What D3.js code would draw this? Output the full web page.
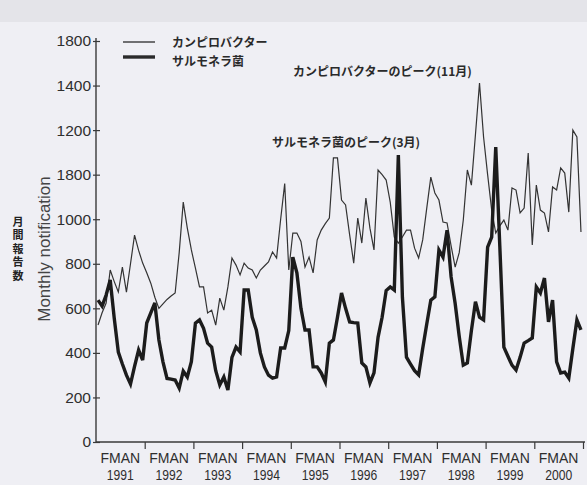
<!DOCTYPE html>
<html>
<head>
<meta charset="utf-8">
<script src="https://cdn.jsdelivr.net/npm/d3@7"></script>
<style>
  html, body { margin: 0; padding: 0; background: #eeeef3; }
  svg { display: block; }
</style>
</head>
<body>
<script>
// ---- data ----
const years = ["1991","1992","1993","1994","1995","1996","1997","1998","1999","2000"];
const monthLabel = "FMAN";
const yTickValues = [0, 200, 400, 600, 800, 1000, 1200, 1400, 1600, 1800];
const yTickLabels = ["0", "200", "400", "600", "800", "1000", "1800", "1200", "1400", "1800"];

// monthly notifications, Jan 1991 .. Dec 2000
const campylobacter = [
  525, 580, 624, 772, 720, 673, 785, 673, 800, 929, 860, 803,
  760, 713, 650, 600, 620, 640, 655, 669, 850, 1077, 960, 862,
  780, 696, 696, 579, 592, 525, 646, 592, 696, 826, 794, 750,
  803, 781, 772, 736, 772, 790, 808, 853, 826, 1000, 1160, 772,
  938, 938, 900, 785, 830, 759, 907, 951, 980, 1005, 1275, 1275,
  1086, 1064, 930, 803, 1005, 893, 1095, 960, 862, 1221, 1200, 1176,
  1077, 920, 893, 920, 951, 951, 870, 826, 907, 1050, 1189, 1118,
  1086, 987, 983, 880, 785, 850, 996, 1221, 1153, 1380, 1611, 1369,
  1200, 1041, 938, 970, 996, 951, 1140, 1131, 1028, 1050, 1297, 884,
  1153, 1041, 1028, 943, 1145, 1131, 1230, 1207, 1032, 1400, 1369, 943
];
const salmonella = [
  637, 610, 660, 727, 555, 404, 350, 300, 260, 340, 413, 368,
  534, 580, 624, 458, 360, 285, 282, 278, 242, 318, 292, 360,
  534, 548, 510, 444, 426, 320, 256, 292, 233, 380, 426, 404,
  682, 682, 560, 503, 400, 337, 300, 287, 292, 422, 422, 500,
  830, 759, 600, 503, 503, 337, 337, 310, 270, 444, 458, 560,
  669, 600, 539, 536, 534, 355, 337, 265, 310, 470, 560, 680,
  696, 682, 1288, 650, 381, 350, 320, 301, 420, 530, 637, 651,
  862, 830, 951, 741, 622, 474, 345, 355, 500, 630, 560, 548,
  875, 920, 1324, 880, 426, 385, 345, 323, 380, 444, 455, 467,
  696, 669, 736, 539, 637, 360, 310, 314, 287, 420, 548, 503
];
const seriesNames = ["カンピロバクター", "サルモネラ菌"];
const annotations = ["カンピロバクターのピーク(11月)", "サルモネラ菌のピーク(3月)"];
const yTitle = "Monthly notification";
const yTitleJa = "月間報告数";

(function () {
// ---- layout ----
const W = 587, H = 485;
const mLeft = 96, mRight = 583, mTop = 41, mBottom = 442;

const svg = d3.select("body").append("svg")
  .attr("width", W).attr("height", H);

svg.append("rect").attr("x", 0).attr("y", 0).attr("width", W).attr("height", H).attr("fill", "#efeff4");
// scanned page header band
svg.append("rect").attr("x", 0).attr("y", 0).attr("width", W).attr("height", 22).attr("fill", "#e4e4e9");

const x = d3.scaleLinear().domain([-0.5, campylobacter.length - 0.5]).range([mLeft, mRight]);
const y = d3.scaleLinear().domain([0, 1800]).range([mBottom, mTop]);
const yearBand = d3.scaleBand().domain(years).range([mLeft, mRight]).padding(0);

const sans = "'Liberation Sans', Arial, Helvetica, sans-serif";
const ja = "'Noto Sans CJK JP', 'Noto Sans CJK SC', sans-serif";
const axisColor = "#3a3a3a";

// y axis
const yAxis = d3.axisLeft(y)
  .tickValues(yTickValues)
  .tickSize(0)
  .tickPadding(5)
  .tickFormat((d, i) => yTickLabels[i]);
const gy = svg.append("g").attr("transform", `translate(${mLeft},0)`).call(yAxis);
gy.select(".domain").remove();
gy.selectAll(".tick text")
  .attr("font-family", sans).attr("font-size", "15.5px").attr("fill", "#2e2e2e");
gy.selectAll(".tick").append("line")
  .attr("x1", -3).attr("x2", 4).attr("stroke", axisColor).attr("stroke-width", 1.2);
svg.append("line").attr("x1", mLeft).attr("x2", mLeft).attr("y1", 38).attr("y2", mBottom)
  .attr("stroke", axisColor).attr("stroke-width", 1.4);

// x axis (year boundaries)
const boundaries = d3.range(1, years.length + 1).map(k => k * 12 - 0.5);
const xAxis = d3.axisBottom(x).tickValues(boundaries).tickSize(7).tickFormat("");
const gx = svg.append("g").attr("transform", `translate(0,${mBottom})`).call(xAxis);
gx.select(".domain").remove();
gx.selectAll(".tick line").attr("stroke", axisColor).attr("stroke-width", 1.2);
svg.append("line").attr("x1", mLeft).attr("x2", 585).attr("y1", mBottom).attr("y2", mBottom)
  .attr("stroke", axisColor).attr("stroke-width", 1.4);

const yearG = svg.append("g");
yearG.selectAll("text.m").data(years).join("text").attr("class", "m")
  .attr("x", d => yearBand(d) + yearBand.bandwidth() / 2)
  .attr("y", 463)
  .attr("text-anchor", "middle")
  .attr("font-family", sans).attr("font-size", "14px").attr("fill", "#2e2e2e")
  .text(monthLabel);
yearG.selectAll("text.yr").data(years).join("text").attr("class", "yr")
  .attr("x", d => yearBand(d) + yearBand.bandwidth() / 2 - 13.5)
  .attr("y", 480)
  .attr("font-family", sans).attr("font-size", "14.5px").attr("fill", "#2e2e2e")
  .attr("textLength", 27).attr("lengthAdjust", "spacingAndGlyphs")
  .text(d => d);

// lines
const line = d3.line().x((d, i) => x(i)).y(d => y(d));
svg.append("path").datum(campylobacter).attr("d", line)
  .attr("fill", "none").attr("stroke", "#333").attr("stroke-width", 1.2)
  .attr("stroke-linejoin", "miter");
svg.append("path").datum(salmonella).attr("d", line)
  .attr("fill", "none").attr("stroke", "#1c1c1c").attr("stroke-width", 3.4)
  .attr("stroke-linejoin", "miter");

// legend
const legend = svg.append("g");
const legendRows = [
  {name: seriesNames[0], w: 1.3, ly: 42, ty: 43},
  {name: seriesNames[1], w: 3.4, ly: 57, ty: 62}
];
legendRows.forEach(r => {
  legend.append("line").attr("x1", 123).attr("x2", 155).attr("y1", r.ly).attr("y2", r.ly)
    .attr("stroke", "#2a2a2a").attr("stroke-width", r.w);
  legend.append("text").attr("x", 172).attr("y", r.ty).attr("dy", "0.35em")
    .attr("font-family", ja).attr("font-size", "12px").attr("font-weight", "bold").attr("fill", "#2a2a2a")
    .text(r.name);
});

// annotations
svg.append("text").attr("x", 293).attr("y", 72).attr("dy", "0.35em")
  .attr("font-family", ja).attr("font-size", "12px").attr("font-weight", "bold").attr("fill", "#2a2a2a")
  .text(annotations[0]);
svg.append("text").attr("x", 272).attr("y", 143).attr("dy", "0.35em")
  .attr("font-family", ja).attr("font-size", "12px").attr("font-weight", "bold").attr("fill", "#2a2a2a")
  .text(annotations[1]);

// y titles
svg.append("text")
  .attr("transform", "translate(50,249) rotate(-90)")
  .attr("text-anchor", "middle")
  .attr("font-family", sans).attr("font-size", "17px").attr("fill", "#444")
  .text(yTitle);
svg.append("text")
  .attr("x", 18).attr("y", 216)
  .style("writing-mode", "vertical-rl")
  .style("letter-spacing", "2.5px")
  .attr("font-family", ja).attr("font-size", "11px").attr("font-weight", "bold").attr("fill", "#222")
  .text(yTitleJa);
})();
</script>
</body>
</html>
